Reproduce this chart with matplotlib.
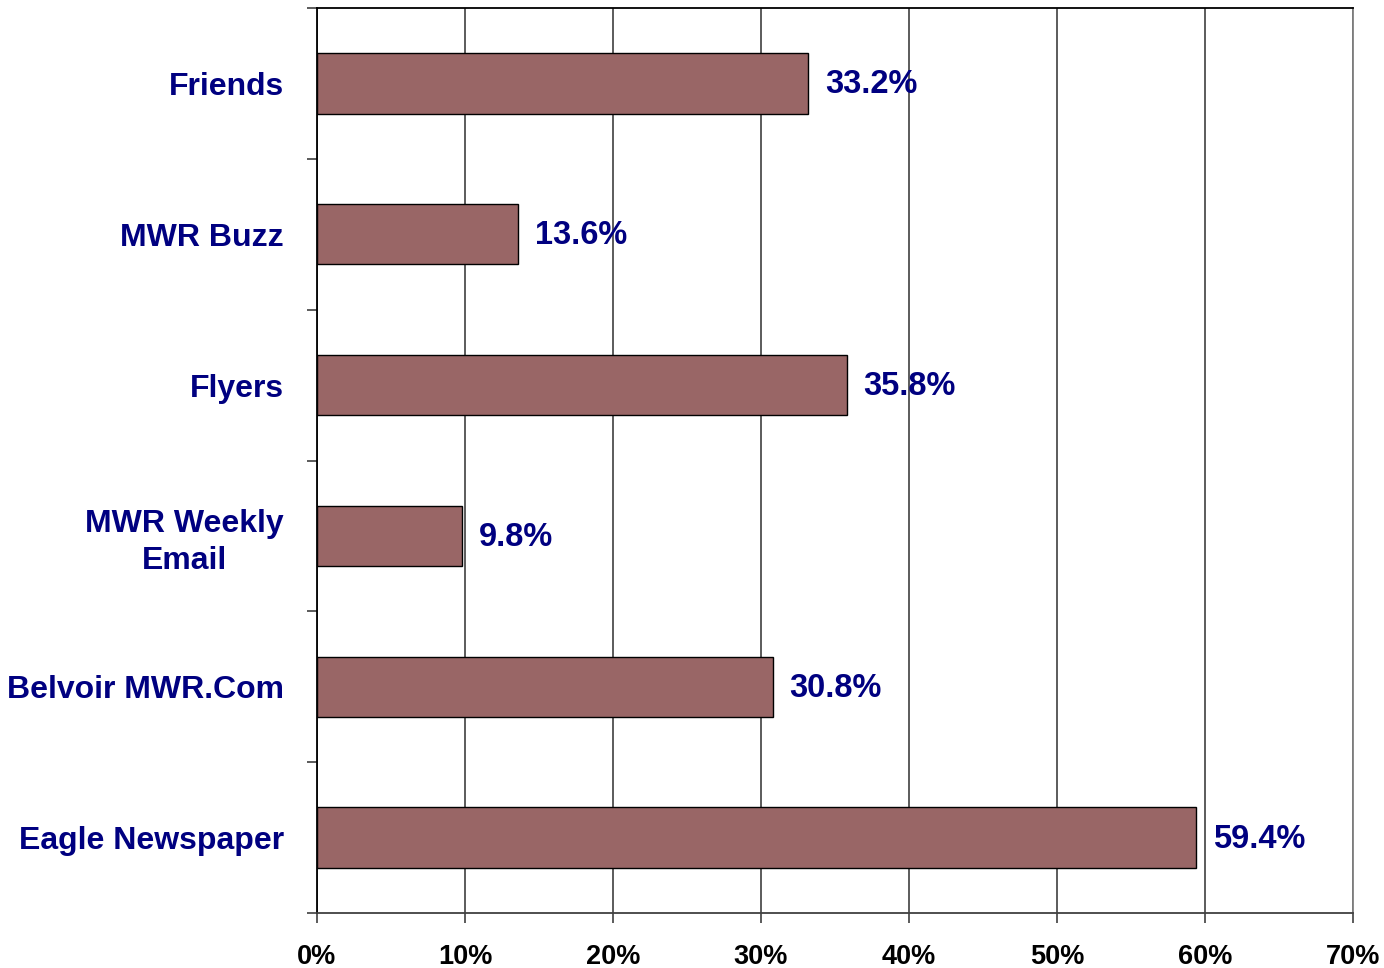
import numpy as np
import matplotlib.pyplot as plt
from matplotlib.ticker import FixedLocator

# data, top to bottom
categories = ["Friends", "MWR Buzz", "Flyers", "MWR Weekly\nEmail", "Belvoir MWR.Com", "Eagle Newspaper"]
values = [33.2, 13.6, 35.8, 9.8, 30.8, 59.4]
xticks = [0, 10, 20, 30, 40, 50, 60, 70]
xtick_labels = ["0%", "10%", "20%", "30%", "40%", "50%", "60%", "70%"]

bar_color = "#996666"
navy = "#000080"

plt.rcParams['font.family'] = ['Liberation Sans', 'DejaVu Sans']

fig = plt.figure(figsize=(13.84, 9.68), dpi=100)
ax = fig.add_axes([317 / 1384, 1 - 913 / 968, (1353 - 317) / 1384, (913 - 8) / 968])

pos = np.arange(len(categories))
ax.barh(pos, values, height=0.4, color=bar_color, edgecolor="black", linewidth=1.0, zorder=3)

for p, v in zip(pos, values):
    ax.annotate(f"{v:.1f}%", xy=(v, p), xytext=(12, 1.5), textcoords="offset points",
                ha="left", va="center_baseline", fontsize=23.5, fontweight="bold", color=navy, zorder=4)

ax.set_xlim(0, 70)
ax.set_ylim(len(categories) - 0.5, -0.5)

ax.set_xticks(xticks)
ax.set_xticklabels(xtick_labels, fontsize=19.5, fontweight="bold")
ax.tick_params(axis="x", length=7, width=1.2, color="#404040", pad=15)
ax.grid(axis="x", color="#404040", linewidth=1.2, zorder=0)

# labels at centres, ticks at category boundaries
ax.set_yticks(pos)
ax.set_yticklabels(categories, fontsize=23, fontweight="bold", color=navy,
                   multialignment="center", linespacing=1.3)
ax.tick_params(axis="y", which="major", length=0, pad=24)
ax.yaxis.set_minor_locator(FixedLocator(np.arange(-0.5, len(categories), 1.0)))
ax.tick_params(axis="y", which="minor", length=7, width=1.2, color="#404040")

for side in ["top", "left"]:
    ax.spines[side].set_color("black")
    ax.spines[side].set_linewidth(1.3)
ax.spines["bottom"].set_color("#404040")
ax.spines["bottom"].set_linewidth(1.3)
ax.spines["right"].set_color("#808080")
ax.spines["right"].set_linewidth(1.3)

fig.savefig("out.png", dpi=100, facecolor="white")
